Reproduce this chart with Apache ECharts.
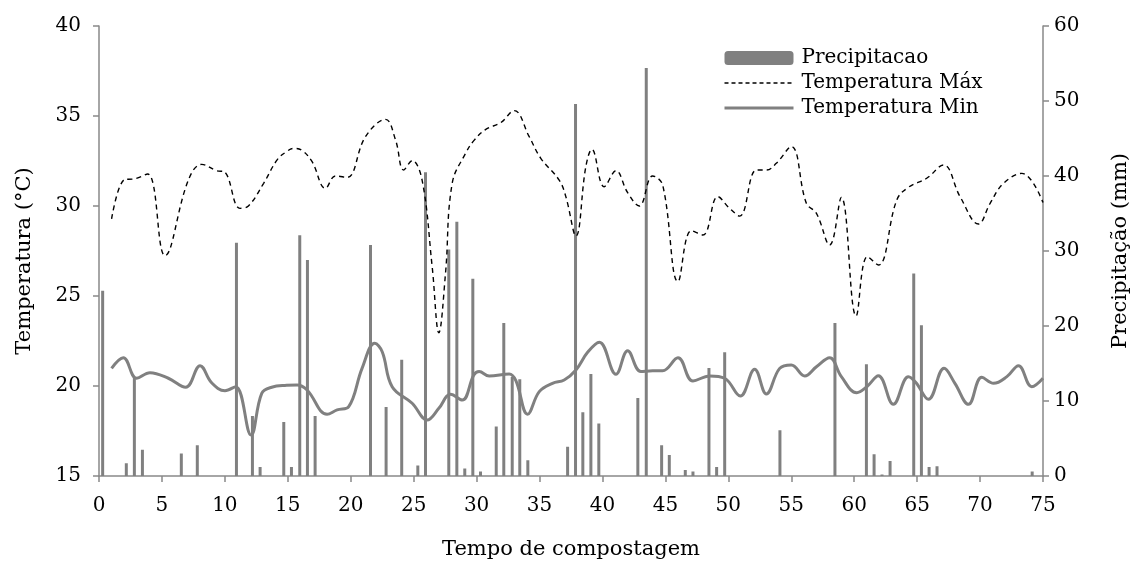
<!DOCTYPE html>
<html>
<head>
<meta charset="utf-8">
<script src="https://cdn.jsdelivr.net/npm/echarts@6/dist/echarts.min.js"></script>
<style>html,body{margin:0;padding:0;background:#fff;}#c{width:1131px;height:567px;}</style>
</head>
<body>
<div id="c"></div>
<script>
// Precipitation (mm): day position and value
var precipDay = [0.29, 2.17, 2.81, 3.45, 6.54, 7.81, 10.92, 12.19, 12.8, 14.68, 15.29, 15.95, 16.56, 17.17,
  21.57, 22.81, 24.05, 25.33, 25.94, 27.79, 28.43, 29.06, 29.7, 30.31, 31.56, 32.16, 32.83, 33.43, 34.07,
  37.23, 37.86, 38.44, 39.08, 39.71, 42.81, 43.48, 44.7, 45.31, 46.58, 47.19, 48.46, 49.07, 49.71, 54.1,
  58.47, 60.97, 61.58, 62.21, 62.85, 64.73, 65.34, 65.95, 66.58, 74.14];
var precipVal = [24.7, 1.7, 13.2, 3.5, 3.0, 4.1, 31.1, 8.0, 1.2, 7.2, 1.2, 32.1, 28.8, 8.0,
  30.8, 9.2, 15.5, 1.4, 40.5, 30.2, 33.9, 1.0, 26.3, 0.6, 6.6, 20.4, 13.2, 12.9, 2.1,
  3.9, 49.6, 8.5, 13.6, 7.0, 10.4, 54.4, 4.1, 2.8, 0.8, 0.6, 14.4, 1.2, 16.5, 6.1,
  20.4, 14.9, 2.9, 0.2, 2.0, 27.0, 20.1, 1.2, 1.3, 0.6];

// Maximum temperature (°C)
var tmaxDay = [1.0, 2.07, 2.73, 3.87, 5.24, 7.1, 8.16, 9.35, 9.96, 11.2, 11.87, 13.08, 14.15, 14.9, 15.47, 16.1,
  16.93, 17.99, 18.79, 19.71, 21.17, 22.76, 23.56, 24.21, 24.88, 25.67, 26.47, 27.0, 27.53, 28.06, 29.12,
  29.78, 30.73, 31.92, 32.99, 34.18, 35.1, 36.56, 37.09, 37.89, 38.68, 39.16, 40.14, 41.07, 42.0, 42.92,
  43.98, 44.78, 46.0, 47.06, 47.98, 49.17, 50.1, 50.9, 52.23, 53.02, 53.81, 55.0, 56.2, 57.0, 58.05, 58.98,
  60.15, 61.05, 61.92, 63.38, 64.31, 65.76, 67.09, 68.41, 69.87, 70.8, 71.86, 73.32, 75.0];
var tmaxVal = [29.28, 31.48, 31.5, 31.78, 27.24, 31.44, 32.31, 31.96, 31.9, 29.87, 30.0, 31.26, 32.56, 33.02, 33.2, 33.1,
  32.46, 30.98, 31.67, 31.59, 33.85, 34.81, 33.67, 32.0, 32.52, 31.44, 26.63, 22.96, 26.26, 31.26, 32.92,
  33.63, 34.26, 34.63, 35.3, 33.85, 32.65, 31.44, 30.52, 28.33, 32.19, 33.15, 31.07, 31.96, 30.74, 30.0,
  31.67, 31.17, 25.8, 28.63, 28.39, 30.52, 29.87, 29.44, 32.0, 32.0, 32.37, 33.3, 30.15, 29.59, 27.83, 30.48,
  23.89, 27.19, 26.72, 30.33, 31.04, 31.54, 32.28, 30.52, 29.0, 30.15, 31.26, 31.81, 30.19];

// Minimum temperature (°C)
var tminDay = [1.0, 1.93, 2.99, 4.05, 5.51, 6.89, 8.03, 8.95, 10.01, 10.86, 12.08, 12.93, 13.72, 14.91, 15.74,
  16.53, 18.12, 18.92, 19.84, 20.9, 21.91, 22.5, 23.29, 24.88, 26.07, 27.0, 27.93, 28.86, 29.78, 30.2, 31.0,
  32.59, 33.12, 34.05, 34.98, 36.03, 36.96, 37.89, 38.82, 39.75, 41.07, 42.0, 43.05, 43.98, 44.78, 46.0,
  47.19, 48.52, 49.71, 50.95, 52.09, 53.02, 54.08, 55.0, 56.07, 57.0, 58.05, 58.98, 60.2, 61.0, 61.92,
  63.11, 64.31, 64.9, 65.9, 67.14, 68.0, 69.08, 70.14, 71.07, 72.13, 73.05, 74.11, 75.0];
var tminVal = [20.98, 21.57, 20.43, 20.74, 20.43, 19.93, 21.13, 20.18, 19.74, 19.96, 17.28, 19.59, 19.93, 20.04, 20.06,
  19.78, 18.43, 18.67, 18.85, 20.98, 22.37, 21.9, 19.96, 19.04, 18.11, 18.76, 19.54, 19.22, 20.61, 20.8, 20.56,
  20.67, 20.3, 18.43, 19.69, 20.15, 20.33, 20.89, 21.87, 22.43, 20.65, 21.96, 20.8, 20.85, 20.85, 21.57,
  20.28, 20.56, 20.43, 19.44, 20.93, 19.56, 20.98, 21.17, 20.56, 21.07, 21.57, 20.52, 19.63, 19.96, 20.57,
  18.98, 20.52, 20.2, 19.26, 20.98, 20.15, 18.98, 20.48, 20.15, 20.52, 21.13, 19.96, 20.43];

var zip = function (a, b) { return a.map(function (v, i) { return [v, b[i]]; }); };

var FONT = 'DejaVu Serif';
var AX = '#898989';

var chart = echarts.init(document.getElementById('c'), null, { renderer: 'canvas' });
chart.setOption({
  animation: false,
  backgroundColor: '#ffffff',
  textStyle: { fontFamily: FONT, color: '#000' },
  grid: { left: 99, right: 88, top: 26, bottom: 91, containLabel: false, outerBoundsMode: 'none' },
  legend: {
    orient: 'vertical',
    left: 723, top: 48,
    padding: 0,
    itemWidth: 69, itemHeight: 14, itemGap: 5,
    textStyle: { fontFamily: FONT, fontSize: 20, color: '#000', padding: [0, 0, 0, 3] },
    data: [
      { name: 'Precipitacao' },
      { name: 'Temperatura Máx', itemStyle: { opacity: 0 }, lineStyle: { width: 1.3, type: [4, 3] } },
      { name: 'Temperatura Min', itemStyle: { opacity: 0 }, lineStyle: { width: 3 } }
    ]
  },
  xAxis: {
    type: 'value', min: 0, max: 75, interval: 5,
    name: 'Tempo de compostagem', nameLocation: 'middle', nameGap: 63,
    nameTextStyle: { fontFamily: FONT, fontSize: 21, color: '#000' },
    axisLine: { lineStyle: { color: AX, width: 1.5 } },
    axisTick: { inside: false, length: 6, lineStyle: { color: AX, width: 1.5 } },
    axisLabel: { fontFamily: FONT, fontSize: 20, color: '#000', margin: 20 },
    splitLine: { show: false }
  },
  yAxis: [{
    type: 'value', min: 15, max: 40, interval: 5, position: 'left',
    name: 'Temperatura (°C)', nameLocation: 'middle', nameGap: 64, nameRotate: 90,
    nameTextStyle: { fontFamily: FONT, fontSize: 21, color: '#000', padding: [0, 20, 0, 0] },
    axisLine: { show: true, lineStyle: { color: AX, width: 1.5 } },
    axisTick: { show: true, length: 6, lineStyle: { color: AX, width: 1.5 } },
    axisLabel: { fontFamily: FONT, fontSize: 20, color: '#000', margin: 18 },
    splitLine: { show: false }
  }, {
    type: 'value', min: 0, max: 60, interval: 10, position: 'right',
    name: 'Precipitação (mm)', nameLocation: 'middle', nameGap: 67, nameRotate: 90,
    nameTextStyle: { fontFamily: FONT, fontSize: 21, color: '#000' },
    axisLine: { show: true, lineStyle: { color: AX, width: 1.5 } },
    axisTick: { show: true, length: 6, lineStyle: { color: AX, width: 1.5 } },
    axisLabel: { fontFamily: FONT, fontSize: 20, color: '#000', margin: 11 },
    splitLine: { show: false }
  }],
  series: [{
    name: 'Precipitacao', type: 'bar', yAxisIndex: 1, barWidth: 3,
    itemStyle: { color: '#808080' },
    data: zip(precipDay, precipVal)
  }, {
    name: 'Temperatura Máx', type: 'line', yAxisIndex: 0, smooth: 0.4,
    symbol: 'none', showSymbol: false,
    lineStyle: { color: '#000', width: 1.4, type: [5, 4] },
    itemStyle: { color: '#000' },
    data: zip(tmaxDay, tmaxVal)
  }, {
    name: 'Temperatura Min', type: 'line', yAxisIndex: 0, smooth: 0.4,
    symbol: 'none', showSymbol: false,
    lineStyle: { color: '#808080', width: 3 },
    itemStyle: { color: '#808080' },
    data: zip(tminDay, tminVal)
  }]
});
</script>
</body>
</html>
